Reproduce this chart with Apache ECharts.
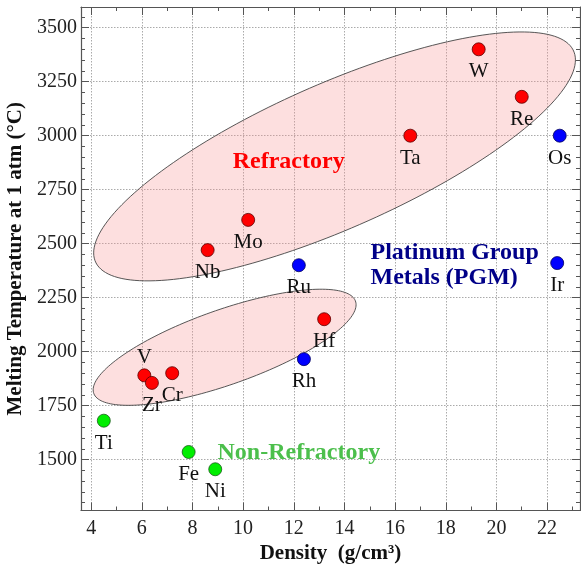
<!DOCTYPE html>
<html>
<head>
<meta charset="utf-8">
<script src="https://cdn.jsdelivr.net/npm/echarts@6/dist/echarts.min.js"></script>
<style>html,body{margin:0;padding:0;background:#fff;}#c{width:581px;height:571px;}</style>
</head>
<body>
<div id="c"></div>
<script>
// ---- data ----
const refractoryNames = ['W', 'Re', 'Ta', 'Mo', 'Nb', 'Hf', 'V', 'Zr', 'Cr'];
const refractoryDensity = [19.3, 21.0, 16.6, 10.2, 8.6, 13.2, 6.1, 6.4, 7.2];
const refractoryMelt = [3400, 3180, 3000, 2610, 2470, 2150, 1890, 1855, 1900];

const pgmNames = ['Os', 'Ir', 'Ru', 'Rh'];
const pgmDensity = [22.5, 22.4, 12.2, 12.4];
const pgmMelt = [3000, 2410, 2400, 1965];

const nonRefNames = ['Ti', 'Fe', 'Ni'];
const nonRefDensity = [4.5, 7.85, 8.9];
const nonRefMelt = [1680, 1535, 1455];

const xTicks = [4, 6, 8, 10, 12, 14, 16, 18, 20, 22];
const xMinorTicks = [5, 7, 9, 11, 13, 15, 17, 19, 21, 23];
const yTicks = [1500, 1750, 2000, 2250, 2500, 2750, 3000, 3250, 3500];
const yMinorTicks = [1300, 1350, 1400, 1450, 1550, 1600, 1650, 1700, 1800, 1850, 1900, 1950,
  2050, 2100, 2150, 2200, 2300, 2350, 2400, 2450, 2550, 2600, 2650, 2700, 2800, 2850, 2900, 2950,
  3050, 3100, 3150, 3200, 3300, 3350, 3400, 3450, 3550];

// group regions (data space): center x, center y, x half-extent, y shift at x-extreme, conjugate vertical half
const regionRefractoryHigh = [13.61, 2904, 9.51, 447, 364];
const regionRefractoryLow = [9.27, 2020, 5.19, 197, 183];

// annotation texts at data positions
const groupLabelTexts = ['Refractory', 'Platinum Group\nMetals (PGM)', 'Non-Refractory'];
const groupLabelX = [11.8, 15.03, 12.2];
const groupLabelY = [2877, 2400, 1532];
const groupLabelAlign = ['center', 'left', 'center'];

// ---- chart ----
const FONT = 'Liberation Serif';
const X_MIN = 3.6, X_MAX = 23.3, Y_MIN = 1264, Y_MAX = 3596;
const axisColor = '#555';

function axis(kind, position, ticks, len, withLine, withLabel, withSplit) {
  return {
    type: 'value', position: position,
    min: kind === 'x' ? X_MIN : Y_MIN, max: kind === 'x' ? X_MAX : Y_MAX,
    axisLine: { show: withLine, onZero: false, lineStyle: { color: axisColor, width: 1.2 } },
    axisTick: { show: true, inside: true, length: len, customValues: ticks, lineStyle: { color: axisColor, width: 1 } },
    axisLabel: withLabel ? {
      show: true, customValues: ticks, formatter: v => String(v),
      fontFamily: FONT, fontSize: 20, color: '#222', margin: kind === 'x' ? 8 : 4
    } : { show: false },
    splitLine: withSplit ? { show: true, lineStyle: { color: '#aaa', type: [1.5, 1.5], width: 1 } } : { show: false },
    minorTick: { show: false }, minorSplitLine: { show: false }
  };
}

const xAxes = [
  Object.assign(axis('x', 'bottom', xTicks, 8, true, true, true), {
    name: 'Density  (g/cm³)', nameLocation: 'middle', nameGap: 31,
    nameTextStyle: { fontFamily: FONT, fontSize: 21, fontWeight: 'bold', color: '#111' }
  }),
  axis('x', 'bottom', xMinorTicks, 4, false, false, false),
  axis('x', 'top', xTicks, 8, true, false, false),
  axis('x', 'top', xMinorTicks, 4, false, false, false)
];
const yAxes = [
  Object.assign(axis('y', 'left', yTicks, 8, true, true, true), {
    name: 'Melting Temperature at 1 atm (°C)', nameLocation: 'middle', nameGap: 48,
    nameTextStyle: { fontFamily: FONT, fontSize: 21, fontWeight: 'bold', color: '#111' }
  }),
  axis('y', 'left', yMinorTicks, 4, false, false, false),
  axis('y', 'right', yTicks, 8, true, false, false),
  axis('y', 'right', yMinorTicks, 4, false, false, false)
];

const regions = [regionRefractoryHigh, regionRefractoryLow];

function pointSeries(names, xs, ys, color, border) {
  return {
    type: 'scatter', xAxisIndex: 0, yAxisIndex: 0, z: 5,
    symbol: 'circle', symbolSize: 13,
    itemStyle: { color: color, borderColor: border, borderWidth: 0.8, opacity: 1 },
    label: {
      show: true, position: 'bottom', distance: 5,
      formatter: p => p.data.name,
      fontFamily: FONT, fontSize: 21, color: '#111'
    },
    data: names.map((n, i) => {
      const d = { name: n, value: [xs[i], ys[i]] };
      if (n === 'V') d.label = { position: 'top', distance: 0 };
      return d;
    })
  };
}

const groupLabelColors = ['#ff0000', '#000088', '#4cbf4c'];

const option = {
  animation: false,
  backgroundColor: '#fff',
  grid: { left: 81, right: 1, top: 7, bottom: 60.5, containLabel: false, outerBoundsMode: 'none' },
  xAxis: xAxes,
  yAxis: yAxes,
  series: [
    {
      type: 'custom', xAxisIndex: 0, yAxisIndex: 0, z: 1, silent: true,
      data: regions.map(r => [r[0], r[1]]),
      renderItem: function (params, api) {
        const e = regions[params.dataIndex];
        const pts = [];
        const N = 180;
        for (let i = 0; i < N; i++) {
          const t = i / N * Math.PI * 2;
          pts.push(api.coord([e[0] + e[2] * Math.cos(t), e[1] + e[3] * Math.cos(t) + e[4] * Math.sin(t)]));
        }
        return {
          type: 'polygon', shape: { points: pts },
          style: { fill: 'rgba(250,150,150,0.3)', stroke: '#444', lineWidth: 0.9 }
        };
      }
    },
    pointSeries(refractoryNames, refractoryDensity, refractoryMelt, '#ff0000', '#5a0000'),
    pointSeries(pgmNames, pgmDensity, pgmMelt, '#0000ff', '#00005a'),
    pointSeries(nonRefNames, nonRefDensity, nonRefMelt, '#00ee00', '#1a5a1a'),
    {
      type: 'scatter', xAxisIndex: 0, yAxisIndex: 0, z: 6, symbolSize: 0, silent: true,
      itemStyle: { opacity: 1 },
      data: groupLabelTexts.map((t, i) => ({
        name: t, value: [groupLabelX[i], groupLabelY[i]],
        label: { color: groupLabelColors[i], align: groupLabelAlign[i] }
      })),
      label: {
        show: true, position: 'inside', formatter: p => p.data.name,
        fontFamily: FONT, fontSize: 24, fontWeight: 'bold', lineHeight: 25, verticalAlign: 'middle'
      }
    }
  ]
};

const chart = echarts.init(document.getElementById('c'), null, { renderer: 'canvas' });
chart.setOption(option);
</script>
</body>
</html>
